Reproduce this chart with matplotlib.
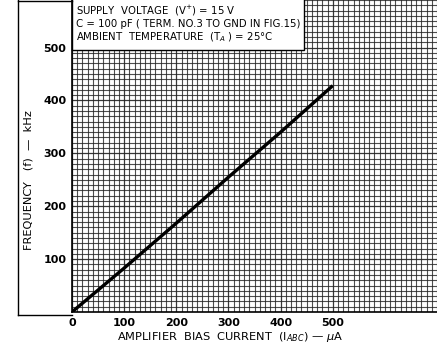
import numpy as np
import matplotlib
matplotlib.use("Agg")
import matplotlib.pyplot as plt
from matplotlib.patches import Rectangle

# bias current (uA) -> frequency (kHz)
bias_ua = [0, 100, 200, 300, 400, 500]
freq_khz = [0, 83, 168, 255, 340, 428]
xticks = [0, 100, 200, 300, 400, 500]
yticks = [100, 200, 300, 400, 500]
notes = ["SUPPLY  VOLTAGE  (V$^{+}$) = 15 V",
         "C = 100 pF ( TERM. NO.3 TO GND IN FIG.15)",
         "AMBIENT  TEMPERATURE  (T$_{A}$ ) = 25°C"]

W, H = 437, 351
fig = plt.figure(figsize=(W / 100, H / 100), dpi=100)
x0, y0 = 72, 312                      # axes origin in pixels (from top)
ax = fig.add_axes([x0 / W, (H - y0) / H, 1 - x0 / W, y0 / H])
ax.set_xlim(0, 697)
ax.set_ylim(0, 589)

# graph-paper grid, near-uniform like the scan
ax.set_xticks(np.arange(0, 701, 10), minor=True)
ax.set_yticks(np.arange(0, 591, 10), minor=True)
ax.set_xticks(xticks)
ax.set_yticks(yticks)
ax.grid(which="minor", color="#222222", lw=0.8, alpha=0.8)
ax.grid(which="major", color="#222222", lw=0.9, alpha=0.9)
ax.tick_params(which="both", length=0, labelsize=8, pad=4)
ax.set_xticklabels([str(t) for t in xticks], fontweight="bold")
ax.set_yticklabels([str(t) for t in yticks], fontweight="bold")
for s in ["top", "right"]:
    ax.spines[s].set_visible(False)
ax.spines["left"].set_linewidth(1.2)
ax.spines["bottom"].set_linewidth(1.2)

ax.plot(bias_ua, freq_khz, color="black", lw=2.4, solid_capstyle="butt", zorder=3)

# white caption box in upper-left of the grid
ax.add_patch(Rectangle((0, 496), 445, 120, facecolor="white", edgecolor="black",
                       lw=1.0, zorder=4, clip_on=False))
for i, t in enumerate(notes):
    fig.text(76 / W, 1 - (11 + 13 * i) / H, t, fontsize=7.3, va="center", ha="left",
             zorder=5)

# outer frame strip on the left
fig.add_artist(plt.Line2D([18 / W, 18 / W], [1, 1 - 315 / H], transform=fig.transFigure,
                          color="black", lw=1))
fig.add_artist(plt.Line2D([18 / W, x0 / W], [1 - 315 / H, 1 - 315 / H],
                          transform=fig.transFigure, color="black", lw=1))
fig.add_artist(plt.Line2D([18 / W, x0 / W], [1 - 1 / H, 1 - 1 / H],
                          transform=fig.transFigure, color="black", lw=1))

fig.text(29 / W, 1 - 180 / H, "FREQUENCY   (f)  —  kHz", rotation=90, fontsize=8.2,
         ha="center", va="center")
fig.text(230 / W, 1 - 337 / H, "AMPLIFIER  BIAS  CURRENT  (I$_{ABC}$) — $\\mu$A",
         fontsize=8.2, ha="center", va="center")

fig.savefig("out.png", dpi=100)
